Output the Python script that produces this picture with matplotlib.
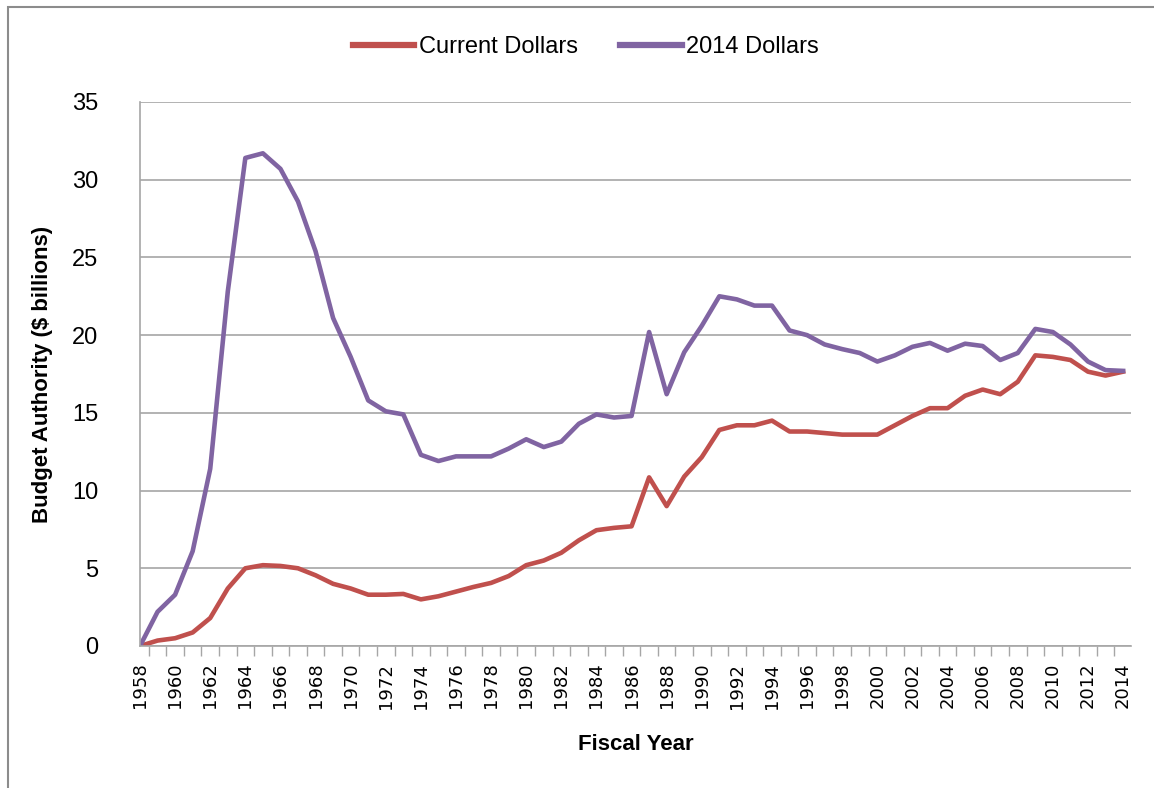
import numpy as np
import matplotlib.pyplot as plt
from matplotlib.patches import Rectangle

years = list(range(1958, 2015))
current_dollars = [0.0, 0.35, 0.5, 0.87, 1.8, 3.7, 5.0, 5.2, 5.15, 5.0,
                   4.55, 4.0, 3.7, 3.3, 3.3, 3.35, 3.0, 3.2, 3.5, 3.8,
                   4.06, 4.5, 5.2, 5.5, 6.0, 6.8, 7.45, 7.6, 7.7, 10.85,
                   9.0, 10.9, 12.15, 13.9, 14.2, 14.2, 14.5, 13.8, 13.8, 13.7,
                   13.6, 13.6, 13.6, 14.2, 14.8, 15.3, 15.3, 16.1, 16.5, 16.2,
                   17.0, 18.7, 18.6, 18.4, 17.65, 17.4, 17.65]
dollars_2014 = [0.0, 2.2, 3.3, 6.1, 11.4, 22.8, 31.4, 31.7, 30.7, 28.6,
                25.4, 21.1, 18.6, 15.8, 15.1, 14.9, 12.3, 11.9, 12.2, 12.2,
                12.2, 12.7, 13.3, 12.8, 13.15, 14.3, 14.9, 14.7, 14.8, 20.2,
                16.2, 18.9, 20.6, 22.5, 22.3, 21.9, 21.9, 20.3, 20.0, 19.4,
                19.1, 18.85, 18.3, 18.7, 19.25, 19.5, 19.0, 19.45, 19.3, 18.4,
                18.85, 20.4, 20.2, 19.4, 18.3, 17.75, 17.7]
year_labels = [str(y) for y in range(1958, 2015, 2)]

W, H = 1154, 788
fig = plt.figure(figsize=(W / 100, H / 100), dpi=100)
# chart border
fig.patches.append(Rectangle((8 / W, -0.01), 1.2, 1 - 7 / H + 0.01, transform=fig.transFigure,
                             fill=False, edgecolor='#8c8c8c', linewidth=1.5))

ax = fig.add_axes([140 / W, 1 - 646 / H, (1131 - 140) / W, (646 - 102) / H])
ax.plot(years, current_dollars, color='#C0504D', lw=3.3, label='Current Dollars', solid_joinstyle='round')
ax.plot(years, dollars_2014, color='#8064A2', lw=3.3, label='2014 Dollars', solid_joinstyle='round')

ax.set_xlim(1958, 2014.45)
ax.set_ylim(0, 35)
ax.set_yticks(range(0, 36, 5))
ax.yaxis.grid(True, color='#a6a6a6', lw=1.2)
ax.set_axisbelow(True)
ax.tick_params(axis='y', length=0, pad=30, labelsize=17)
for lab in ax.get_yticklabels():
    lab.set_family('Liberation Sans')

ax.set_xticks(range(1958, 2015, 2))
ax.set_xticklabels(year_labels, rotation=90, fontsize=13, family='DejaVu Sans')
ax.tick_params(axis='x', length=0, pad=12)
ax.set_xticks(np.arange(1958.5, 2014.5, 1), minor=True)
ax.tick_params(axis='x', which='minor', length=7, color='#a6a6a6', width=1)

for s in ['top', 'right']:
    ax.spines[s].set_visible(False)
ax.spines['left'].set_color('#a6a6a6')
ax.spines['bottom'].set_color('#a6a6a6')
ax.spines['left'].set_linewidth(1.2)
ax.spines['bottom'].set_linewidth(1.2)

ax.set_xlabel('Fiscal Year', fontsize=16, fontweight='bold', family='Liberation Sans', labelpad=18)
ax.set_ylabel('Budget Authority ($ billions)', fontsize=16, fontweight='bold',
              family='Liberation Sans', labelpad=14)

leg = fig.legend(loc='center', bbox_to_anchor=(586 / W, 1 - 47 / H), ncol=2, frameon=False,
                 prop={'family': 'Liberation Sans', 'size': 17}, handlelength=2.6,
                 handletextpad=0.2, columnspacing=1.8)
for h in leg.get_lines():
    h.set_linewidth(4.5)

fig.savefig('out.png', dpi=100)
